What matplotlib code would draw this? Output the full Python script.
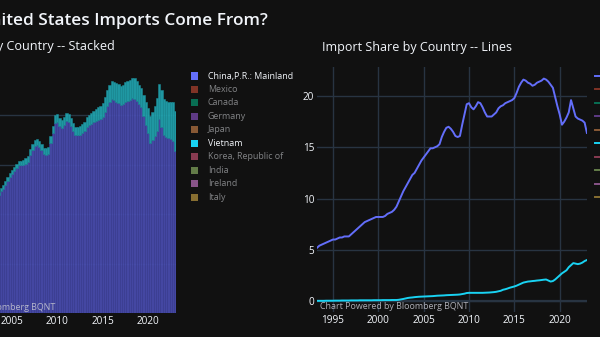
import matplotlib
matplotlib.use("Agg")
import matplotlib.pyplot as plt
from matplotlib.patches import Rectangle
from matplotlib.lines import Line2D
import numpy as np
import pandas as pd

plt.rcParams["font.family"] = ["Open Sans", "DejaVu Sans"]

# quarterly import share (%), 1993Q2 .. 2023Q1
china = [
    5.2, 5.4, 5.5,
    5.6, 5.7, 5.8, 5.9,
    6.0, 6.0, 6.1, 6.2,
    6.2, 6.3, 6.3, 6.3,
    6.5, 6.7, 6.9, 7.1,
    7.3, 7.5, 7.7, 7.8,
    7.9, 8.0, 8.1, 8.2,
    8.2, 8.2, 8.2, 8.3,
    8.5, 8.6, 8.7, 8.9,
    9.2, 9.7, 10.2, 10.7,
    11.1, 11.5, 11.9, 12.3,
    12.5, 12.9, 13.3, 13.7,
    14.0, 14.3, 14.6, 14.9,
    14.9, 15.0, 15.1, 15.3,
    16.0, 16.5, 16.9, 17.0,
    16.8, 16.5, 16.1, 16.0,
    16.1, 17.2, 18.2, 19.2,
    19.3, 18.9, 18.7, 19.0,
    19.4, 19.3, 18.9, 18.4,
    18.0, 18.0, 18.0, 18.2,
    18.4, 18.8, 19.0, 19.1,
    19.3, 19.4, 19.5, 19.6,
    19.8, 20.3, 20.9, 21.3,
    21.6, 21.5, 21.3, 21.2,
    21.0, 21.1, 21.3, 21.4,
    21.5, 21.7, 21.6, 21.4,
    21.1, 20.8, 19.9, 19.0,
    18.2, 17.2, 17.5, 17.9,
    18.4, 19.6, 18.8, 18.0,
    17.8, 17.7, 17.6, 17.4,
    16.4,
]
vietnam = [
    0.02, 0.02, 0.02,
    0.02, 0.03, 0.03, 0.03,
    0.03, 0.04, 0.04, 0.04,
    0.05, 0.05, 0.05, 0.05,
    0.06, 0.06, 0.06, 0.06,
    0.07, 0.07, 0.07, 0.07,
    0.07, 0.07, 0.08, 0.08,
    0.08, 0.08, 0.09, 0.09,
    0.09, 0.09, 0.10, 0.10,
    0.10, 0.12, 0.16, 0.20,
    0.25, 0.30, 0.33, 0.35,
    0.38, 0.40, 0.42, 0.43,
    0.44, 0.45, 0.46, 0.47,
    0.48, 0.50, 0.52, 0.53,
    0.54, 0.55, 0.57, 0.58,
    0.59, 0.60, 0.61, 0.62,
    0.64, 0.68, 0.72, 0.78,
    0.80, 0.80, 0.80, 0.80,
    0.80, 0.80, 0.80, 0.81,
    0.82, 0.83, 0.85, 0.87,
    0.90, 0.95, 1.00, 1.10,
    1.15, 1.22, 1.30, 1.36,
    1.42, 1.50, 1.60, 1.70,
    1.80, 1.85, 1.90, 1.92,
    1.95, 1.97, 2.00, 2.02,
    2.05, 2.08, 2.10, 2.00,
    1.90, 1.95, 2.10, 2.30,
    2.50, 2.70, 2.85, 3.00,
    3.30, 3.50, 3.70, 3.65,
    3.60, 3.65, 3.75, 3.90,
    4.00,
]

countries = ["China,P.R.: Mainland", "Mexico", "Canada", "Germany", "Japan",
             "Vietnam", "Korea, Republic of", "India", "Ireland", "Italy"]
shown = ["China,P.R.: Mainland", "Vietnam"]
colors = ["#636efa", "#EF553B", "#00cc96", "#ab63fa", "#FFA15A",
          "#19d3f3", "#FF6692", "#B6E880", "#FF97FF", "#FECB52"]

x_ticks = [1995, 2000, 2005, 2010, 2015, 2020]
y_ticks = [0, 5, 10, 15, 20]

dates = pd.date_range("1993-04-01", periods=len(china), freq="QS")
years = np.array(dates.year + (dates.quarter - 1) / 4.0)

BG = "#111111"
GRID = "#283442"
FG = "#f2f5fa"
W, H = 600, 337

fig = plt.figure(figsize=(W / 100, H / 100), dpi=100, facecolor=BG)


def px_axes(left, top, right, bottom):
    return fig.add_axes([left / W, 1 - bottom / H, (right - left) / W, (bottom - top) / H])


"""
left: stacked bars
"""
ax1 = px_axes(-95.7, 67, 176.3, 313)
ax1.set_facecolor(BG)
ax1.bar(years, china, width=0.25, color="#4a4eb3", edgecolor="#3c3f95",
        linewidth=0.4, alpha=0.9, zorder=2)
ax1.bar(years, vietnam, bottom=china, width=0.25, color="#21a7b3",
        edgecolor="#1b8c97", linewidth=0.4, alpha=0.9, zorder=2)
ax1.set_xlim(years[0] - 0.125, years[-1] + 0.125)
ax1.set_ylim(0, 24.85)
ax1.set_xticks(x_ticks)
ax1.set_yticks(y_ticks)
ax1.grid(axis="y", color=GRID, linewidth=1, zorder=0)
ax1.set_axisbelow(True)

"""
right: lines
"""
ax2 = px_axes(317.1, 67, 586.9, 312)
ax2.set_facecolor(BG)
ax2.plot(years, china, color="#636efa", linewidth=1.4, zorder=3)
ax2.plot(years, vietnam, color="#19d3f3", linewidth=1.4, zorder=3)
ax2.set_xlim(years[0], years[-1])
ax2.set_ylim(-1.07, 22.83)
ax2.set_xticks(x_ticks)
ax2.set_yticks(y_ticks)
ax2.grid(color=GRID, linewidth=1, zorder=0)
ax2.axhline(0, color=GRID, linewidth=1.6, zorder=1)
ax2.set_axisbelow(True)

for ax in (ax1, ax2):
    for s in ax.spines.values():
        s.set_visible(False)
    ax.tick_params(length=0, labelsize=7.2, colors=FG, pad=2)
    ax.text(0.011, 0.004, "Chart Powered by Bloomberg BQNT", transform=ax.transAxes,
            fontsize=6.4, color="#c9cad3", alpha=0.85, ha="left", va="bottom", zorder=5)

"""
titles
"""
fig.text(268 / W, 1 - 25 / H, "Where Do United States Imports Come From?",
         ha="right", va="baseline", fontsize=12.4, weight="semibold", color=FG)
fig.text(115 / W, 1 - 50 / H, "Import Share by Country -- Stacked",
         ha="right", va="baseline", fontsize=9.1, color=FG)
fig.text(322 / W, 1 - 51 / H, "Import Share by Country -- Lines",
         ha="left", va="baseline", fontsize=9.0, color=FG)

"""
legends (left one full, right one cut at figure edge)
"""
for i, (name, c) in enumerate(zip(countries, colors)):
    y = 76 + i * 13.45
    a = 1.0 if name in shown else 0.5
    fig.add_artist(Rectangle((191 / W, 1 - (y + 3.5) / H), 7 / W, 7 / H,
                             facecolor=c, edgecolor="none", alpha=a,
                             transform=fig.transFigure))
    fig.text(208 / W, 1 - y / H, name, ha="left", va="center", fontsize=6.4,
             color=FG, alpha=a)
    fig.add_artist(Line2D([595 / W, 610 / W], [1 - y / H, 1 - y / H], color=c,
                          alpha=a, linewidth=1.4, transform=fig.transFigure))

fig.savefig("out.png", dpi=100, facecolor=BG)
